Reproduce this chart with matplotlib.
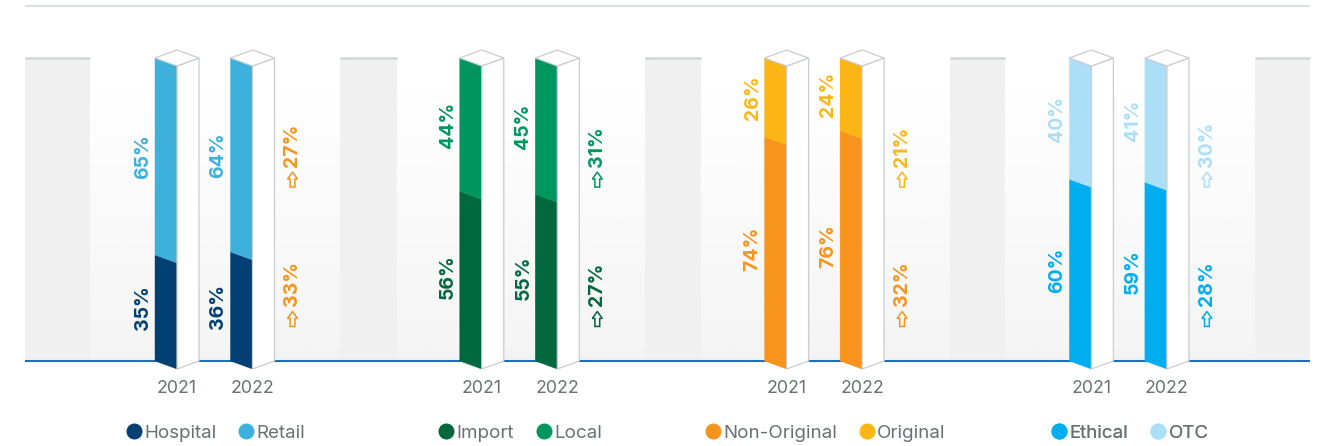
import matplotlib
matplotlib.use('Agg')
import matplotlib.pyplot as plt
import numpy as np
from matplotlib.patches import Polygon, Rectangle
from matplotlib.lines import Line2D

plt.rcParams['font.family'] = ['Inter', 'DejaVu Sans']

# data
years = ['2021', '2022']
bottom_names = ['Hospital', 'Import', 'Non-Original', 'Ethical']
top_names = ['Retail', 'Local', 'Original', 'OTC']
bottom_2021 = [35, 56, 74, 60]
bottom_2022 = [36, 55, 76, 59]
top_2021 = [65, 44, 26, 40]
top_2022 = [64, 45, 24, 41]
growth_top = [27, 31, 21, 30]
growth_bottom = [33, 27, 32, 28]

bottom_colors = ['#023f73', '#00673f', '#f7941d', '#00aeef']
top_colors = ['#3db1dc', '#00965f', '#fbb616', '#abdff8']
growth_top_colors = ['#f7941d', '#00965f', '#fbb616', '#abdff8']
growth_bottom_colors = ['#f7941d', '#00673f', '#f7941d', '#00aeef']

# layout (pixel-ish x units, percent y units)
px = 3.03            # pixels per percent
depth = 8 / px       # isometric drop of the bar faces
w = 22               # face width
first_bar = 155
group_step = 304.8
bar_step = 75.5
grey_panels = [(25, 90), (340, 397), (645, 701), (950, 1005), (1255, 1310)]

fig = plt.figure(figsize=(13.35, 4.46), dpi=100)
ax = fig.add_axes([0, 0, 1, 1])
ax.set_xlim(0, 1335)
ax.set_ylim(-85 / px, 361 / px)
ax.axis('off')

# background panels
grad = np.linspace(1.0, 0.955, 200).reshape(-1, 1)
for (a0, a1), (b0, b1) in zip(grey_panels[:-1], grey_panels[1:]):
    ax.imshow(grad, cmap='gray', vmin=0, vmax=1, extent=[a1, b0, 0, 98.5],
              aspect='auto', zorder=0)
for x0, x1 in grey_panels:
    ax.add_patch(Rectangle((x0, 0), x1 - x0, 100, fc='#f0f0f0', ec='none', zorder=1))
    ax.plot([x0, x1], [100, 100], color='#d6d9dc', lw=2, zorder=1.5, solid_capstyle='butt')

ax.plot([25, 1310], [355 / px, 355 / px], color='#dcdfe2', lw=1.5, solid_capstyle='butt')
ax.plot([25, 1310], [0, 0], color='#1f6fb6', lw=1.5, zorder=2, solid_capstyle='butt')


def draw_bar(L, b, cb, ct):
    ax.add_patch(Polygon([(L, 0), (L + w, -depth), (L + w, b - depth), (L, b)],
                         fc=cb, ec=cb, lw=0.3, zorder=3))
    ax.add_patch(Polygon([(L, b), (L + w, b - depth), (L + w, 100 - depth), (L, 100)],
                         fc=ct, ec=ct, lw=0.3, zorder=3))
    ax.add_patch(Polygon([(L + w, -depth), (L + 2 * w, 0), (L + 2 * w, 100), (L + w, 100 - depth)],
                         fc='white', ec='#c9cdd1', lw=0.9, zorder=3))
    ax.add_patch(Polygon([(L, 100), (L + w, 100 - depth), (L + 2 * w, 100), (L + w, 100 + depth)],
                         fc='white', ec='#c9cdd1', lw=0.9, zorder=3))


# outline "up" arrow shape, in pixels relative to its tip
arrow_shape = [(0, 0), (5, -7), (2.4, -7), (2.4, -15), (-2.4, -15), (-2.4, -7), (-5, -7)]


def growth_label(x, y, value, color):
    # number reads upwards from y, outline arrow sits just below it
    ax.text(x, y, f'{value}%', rotation=90, ha='center', va='bottom',
            color=color, fontsize=14, fontweight='bold', zorder=4)
    tip = y - 5 / px
    ax.add_patch(Polygon([(x + dx, tip + dy / px) for dx, dy in arrow_shape],
                         fc='none', ec=color, lw=1.1, joinstyle='miter', zorder=4))


for g in range(4):
    x0 = first_bar + g * group_step
    for i, (bot, top) in enumerate([(bottom_2021[g], top_2021[g]), (bottom_2022[g], top_2022[g])]):
        L = x0 + i * bar_step
        draw_bar(L, bot, bottom_colors[g], top_colors[g])
        ax.text(L - 12, bot / 2, f'{bot}%', rotation=90, ha='center', va='center',
                color=bottom_colors[g], fontsize=14, fontweight='bold', zorder=4)
        ax.text(L - 12, bot + top / 2, f'{top}%', rotation=90, ha='center', va='center',
                color=top_colors[g], fontsize=14, fontweight='bold', zorder=4)
        ax.text(L + w, -9.2, years[i], ha='center', va='center', color='#6b7075', fontsize=12.8)

    gx = x0 + bar_step + 62
    growth_label(gx, 64, growth_top[g], growth_top_colors[g])
    growth_label(gx, 18, growth_bottom[g], growth_bottom_colors[g])

    handles = [Line2D([], [], marker='o', ls='none', color=bottom_colors[g], markersize=10.5),
               Line2D([], [], marker='o', ls='none', color=top_colors[g], markersize=10.5)]
    leg = ax.legend(handles, [bottom_names[g], top_names[g]], loc='center',
                    bbox_to_anchor=(x0 + 60, -23.8), bbox_transform=ax.transData,
                    ncol=2, frameon=False, fontsize=13.5, handletextpad=0.05,
                    columnspacing=1.1, handlelength=1.0, labelcolor='#6b7075')
    ax.add_artist(leg)

fig.savefig('out.png', dpi=100)
